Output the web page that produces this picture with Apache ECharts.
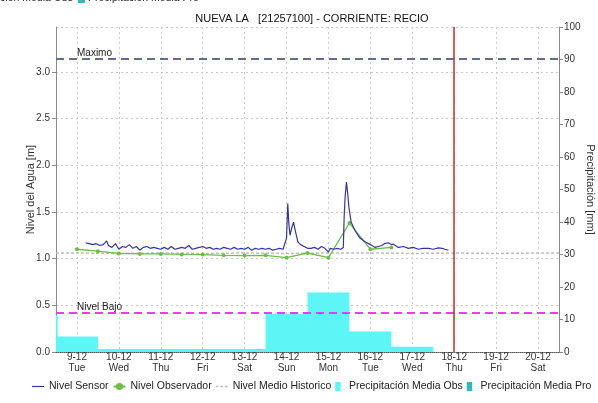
<!DOCTYPE html>
<html>
<head>
<meta charset="utf-8">
<script src="https://cdn.jsdelivr.net/npm/echarts@6/dist/echarts.min.js"></script>
<style>
  html, body { margin: 0; padding: 0; background: #fff; }
  #chart { width: 598px; height: 403px; }
</style>
</head>
<body>
<div id="chart"></div>
<script>
// horas contadas desde 9-12 00:00
var dayNames = ["Sun", "Mon", "Tue", "Wed", "Thu", "Fri", "Sat"];

var sensorHours = [5, 7, 9, 11, 13, 15, 17, 18, 20, 22, 24, 26, 28, 30, 32, 34, 36, 38, 40, 42, 44, 46, 48, 50, 52, 54, 56, 58, 60, 62, 64, 66, 68, 70, 72, 74, 76, 78, 80, 82, 84, 86, 88, 90, 92, 94, 96, 98, 100, 102, 104, 106, 108, 110, 112, 114, 116, 118,
  119, 120, 120.7, 121.3, 122, 123, 124, 125, 126.5, 128, 130, 132, 134, 136, 138, 140, 142, 143, 144, 145, 147, 149, 151, 152.5, 153, 153.5, 154.3, 155, 155.7, 157, 159.5, 162,
  165, 168, 170.7, 172.5, 174.5, 176, 178.3, 180, 181.2, 184, 187, 189.8, 192.5, 195.5, 198, 201.2, 204, 207, 209, 210.8, 212.7];
var sensorLevels = [1.17, 1.16, 1.15, 1.16, 1.14, 1.15, 1.19, 1.14, 1.12, 1.16, 1.10, 1.13, 1.12, 1.15, 1.11, 1.13, 1.09, 1.12, 1.13, 1.11, 1.12, 1.11, 1.10, 1.12, 1.10, 1.13, 1.10, 1.11, 1.12, 1.11, 1.14, 1.10, 1.11, 1.12, 1.13, 1.11, 1.12, 1.10, 1.11, 1.10, 1.12, 1.11, 1.10, 1.12, 1.10, 1.11, 1.10, 1.12, 1.09, 1.11, 1.10, 1.11, 1.10, 1.11, 1.09, 1.10, 1.11, 1.10,
  1.10, 1.22, 1.59, 1.38, 1.25, 1.33, 1.39, 1.30, 1.18, 1.15, 1.13, 1.11, 1.11, 1.12, 1.10, 1.13, 1.11, 1.10, 1.07, 1.11, 1.10, 1.11, 1.10, 1.12, 1.45, 1.65, 1.82, 1.70, 1.55, 1.39, 1.29, 1.22,
  1.18, 1.15, 1.12, 1.13, 1.14, 1.16, 1.17, 1.15, 1.155, 1.12, 1.13, 1.11, 1.12, 1.10, 1.11, 1.11, 1.10, 1.115, 1.11, 1.10, 1.09];

var obsHours = [0, 12, 24, 36, 48, 60, 72, 84, 96, 108, 120, 132, 144, 156, 168, 180];
var obsLevels = [1.10, 1.08, 1.055, 1.05, 1.05, 1.045, 1.043, 1.035, 1.032, 1.035, 1.01, 1.06, 1.01, 1.38, 1.10, 1.12];

var histHours = [-12, 0, 24, 48, 72, 96, 120, 144, 168, 192, 216, 240, 264, 276];
var histLevels = [1.06, 1.06, 1.055, 1.06, 1.055, 1.06, 1.055, 1.06, 1.06, 1.055, 1.06, 1.055, 1.06, 1.06];

// precipitacion diaria (mm), cada valor rige hasta la hora siguiente
var precipHours = [-36, -11, 12, 108, 132, 156, 180, 204];
var precipObs = [11.3, 4.8, 0.9, 11.8, 18.3, 6.3, 1.6, 0];

var nivelMaximo = 3.14;
var nivelBajo = 0.42;
var ahoraHora = 216; // 18-12 00:00

var base = new Date(2014, 11, 9).getTime();
function t(h) { return base + h * 3600 * 1000; }
function pairs(hs, vs) { return hs.map(function (h, i) { return [t(h), vs[i]]; }); }

var font = "'Liberation Sans', Arial, sans-serif";
var chart = echarts.init(document.getElementById("chart"));

var option = {
  animation: false,
  textStyle: { fontFamily: font },
  title: {
    text: "NUEVA LA   [21257100] - CORRIENTE: RECIO",
    left: 307,
    textAlign: "center",
    top: 8,
    textStyle: { fontSize: 11, fontWeight: "normal", color: "#111", fontFamily: font }
  },
  graphic: [
    { type: "text", right: 525, top: -7, style: { text: "Precipitación Media Obs", fontSize: 10.5, fill: "#222", fontFamily: font } },
    { type: "rect", left: 78, top: -5, shape: { width: 7, height: 8 }, style: { fill: "#33b8b8" } },
    { type: "text", left: 88, top: -7, style: { text: "Precipitación Media Pro", fontSize: 10.5, fill: "#222", fontFamily: font } }
  ],
  grid: { left: 56, right: 39, top: 27, bottom: 51, outerBoundsMode: "none", containLabel: false },
  legend: {
    left: 27,
    top: 376,
    width: 640,
    itemWidth: 12,
    itemHeight: 9,
    itemGap: 4,
    textStyle: { fontSize: 10.5, color: "#222", fontFamily: font },
    data: [
      { name: "Nivel Sensor", icon: "path://M0,0H14V1.4H0Z" },
      { name: "Nivel Observador" },
      { name: "Nivel Medio Historico", icon: "path://M0,0H3V1.4H0Z M5,0H8V1.4H5Z M10,0H13V1.4H10Z" },
      { name: "Precipitación Media Obs", icon: "path://M0,0H6V10H0Z" },
      { name: "Precipitación Media Pro", icon: "path://M0,0H6V10H0Z" }
    ]
  },
  xAxis: {
    type: "time",
    min: t(-12),
    max: t(276),
    minInterval: 24 * 3600 * 1000,
    maxInterval: 24 * 3600 * 1000,
    axisLine: { lineStyle: { color: "#555", type: [1, 1] } },
    axisTick: { show: false },
    splitLine: { show: true, lineStyle: { color: "#c8c8c8", type: [2, 3] } },
    axisLabel: {
      showMinLabel: false,
      showMaxLabel: false,
      color: "#333",
      fontSize: 10,
      lineHeight: 11,
      margin: 0,
      formatter: function (value) {
        var d = new Date(value);
        return d.getDate() + "-" + (d.getMonth() + 1) + "\n" + dayNames[d.getDay()];
      }
    }
  },
  yAxis: [
    {
      type: "value",
      min: 0,
      max: 3.48,
      interval: 0.5,
      name: "Nivel del Agua [m]",
      nameLocation: "middle",
      nameRotate: 90,
      nameGap: 20,
      nameMoveOverlap: false,
      nameTextStyle: { fontSize: 11, color: "#333" },
      axisLine: { show: true, lineStyle: { color: "#888" } },
      axisTick: { show: true, length: 4, lineStyle: { color: "#888" } },
      axisLabel: {
        showMaxLabel: false,
        color: "#333",
        fontSize: 10,
        margin: 6,
        formatter: function (v) { return v.toFixed(1); }
      },
      splitLine: { show: true, lineStyle: { color: "#c8c8c8", type: [2, 3] } }
    },
    {
      type: "value",
      min: 0,
      max: 100,
      interval: 10,
      position: "right",
      name: "Precipitación [mm]",
      nameLocation: "middle",
      nameRotate: -90,
      nameGap: 26,
      nameMoveOverlap: false,
      nameTextStyle: { fontSize: 11, color: "#333" },
      axisLine: { show: true, lineStyle: { color: "#888" } },
      axisTick: { show: true, length: 4, lineStyle: { color: "#888" } },
      axisLabel: { color: "#333", fontSize: 10, margin: 5 },
      splitLine: { show: false }
    }
  ],
  series: [
    {
      name: "Precipitación Media Obs",
      type: "line",
      yAxisIndex: 1,
      step: "end",
      symbol: "none",
      z: 1,
      itemStyle: { color: "#5cf6f6" },
      lineStyle: { width: 0 },
      areaStyle: { color: "#5cf6f6", opacity: 1 },
      data: pairs(precipHours, precipObs)
    },
    {
      name: "Precipitación Media Pro",
      type: "line",
      yAxisIndex: 1,
      symbol: "none",
      itemStyle: { color: "#33b8b8" },
      data: []
    },
    {
      name: "Nivel Medio Historico",
      type: "line",
      symbol: "none",
      z: 2,
      itemStyle: { color: "#bdbdbd" },
      lineStyle: { color: "#bdbdbd", width: 1.5, type: [3, 2] },
      data: pairs(histHours, histLevels)
    },
    {
      name: "Nivel Observador",
      type: "line",
      symbol: "circle",
      symbolSize: 4,
      z: 3,
      itemStyle: { color: "#6cbf45" },
      lineStyle: { color: "#6cbf45", width: 1.3 },
      data: pairs(obsHours, obsLevels)
    },
    {
      name: "Nivel Sensor",
      type: "line",
      symbol: "none",
      z: 4,
      itemStyle: { color: "#3434a6" },
      lineStyle: { color: "#3434a6", width: 1.2 },
      data: pairs(sensorHours, sensorLevels),
      markLine: {
        silent: true,
        symbol: "none",
        animation: false,
        data: [
          {
            yAxis: nivelMaximo,
            lineStyle: { color: "#5d7090", width: 2, type: [8, 5] },
            label: { show: true, formatter: "Maximo", position: "insideStartTop", distance: [21, 1], color: "#222", fontSize: 10 }
          },
          {
            yAxis: nivelBajo,
            lineStyle: { color: "#f03cf0", width: 2, type: [8, 5] },
            label: { show: true, formatter: "Nivel Bajo", position: "insideStartTop", distance: [21, 1], color: "#222", fontSize: 10 }
          },
          {
            xAxis: t(ahoraHora),
            lineStyle: { color: "#cc2a2a", width: 1.5, type: "solid" },
            label: { show: false }
          }
        ]
      }
    }
  ]
};

chart.setOption(option);
</script>
</body>
</html>
